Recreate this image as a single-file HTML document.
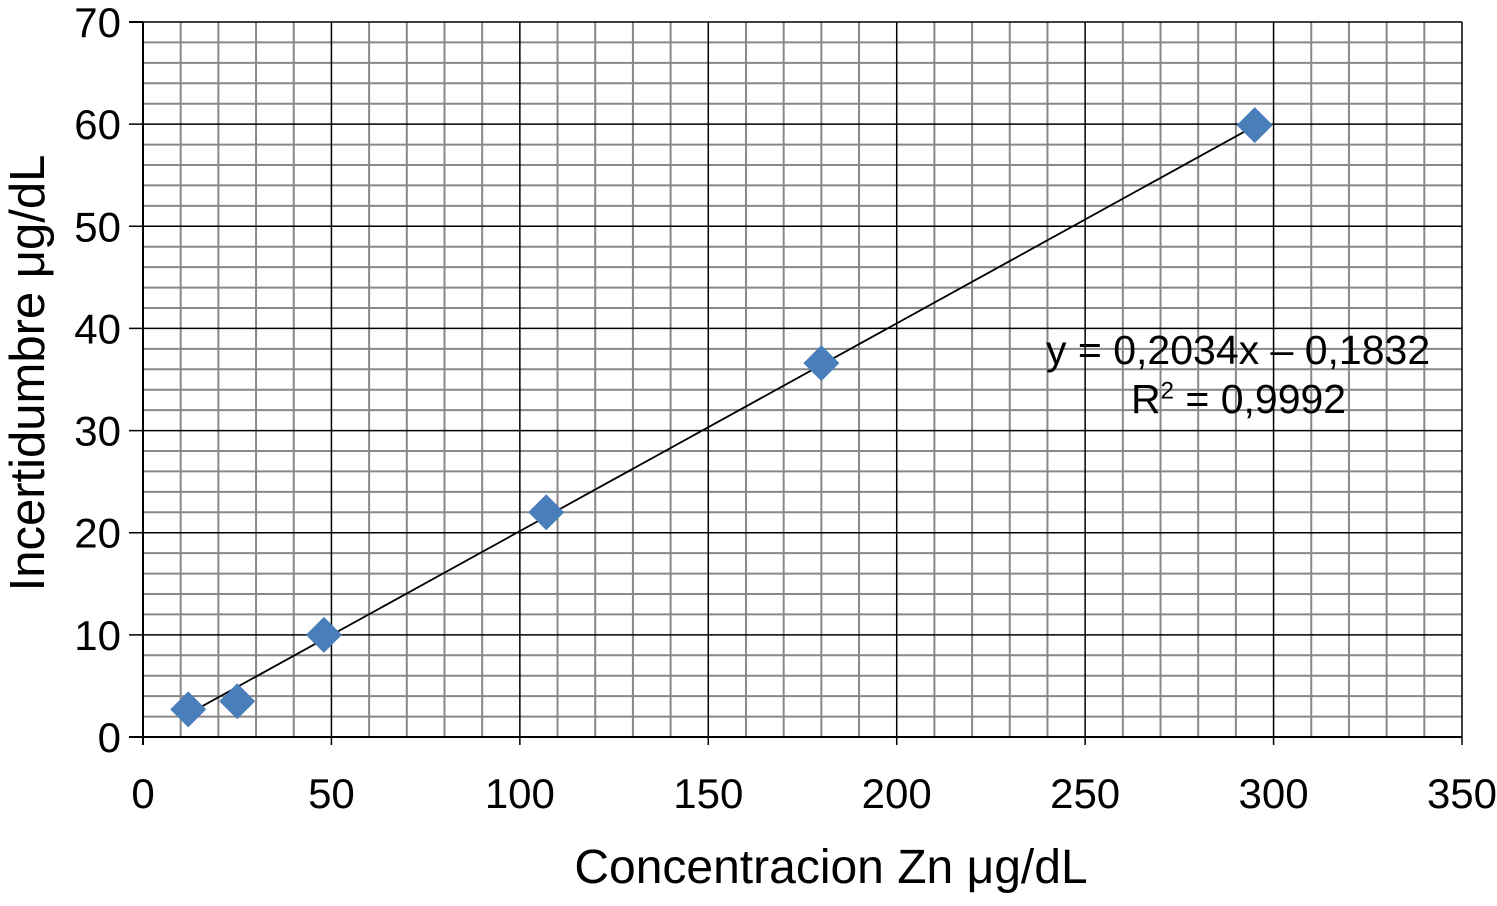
<!DOCTYPE html>
<html><head><meta charset="utf-8"><style>
html,body{margin:0;background:#fff;overflow:hidden;width:1497px;height:906px;}
svg{display:block;}
svg text{font-family:"Liberation Sans",Arial,sans-serif;fill:#000;}
</style></head><body>
<svg id="c" width="1497" height="906" xmlns="http://www.w3.org/2000/svg"></svg>
<script>
const xVals=[12,25,48,107,180,295];
const yVals=[2.7,3.5,10,22,36.6,59.9];
const xTicks=[0,50,100,150,200,250,300,350];
const yTicks=[0,10,20,30,40,50,60,70];
const slope=0.2034, intercept=-0.1832;
const svg=document.getElementById('c');
const NS='http://www.w3.org/2000/svg';
const X0=143,X1=1462,Y0=737,Y1=22;
const sx=v=>X0+(v/350)*(X1-X0);
const sy=v=>Y0-(v/70)*(Y0-Y1);
function mk(t,a,p){const e=document.createElementNS(NS,t);for(const k in a)e.setAttribute(k,a[k]);(p||svg).appendChild(e);return e;}
const grid=mk('g',{});


for(let v=10;v<=350;v+=10){if(v%50)mk('line',{x1:sx(v),x2:sx(v),y1:Y1,y2:Y0,stroke:'#888','stroke-width':2},grid);}
for(let v=2;v<=70;v+=2){if(v%10)mk('line',{x1:X0,x2:X1,y1:sy(v),y2:sy(v),stroke:'#888','stroke-width':2},grid);}
xTicks.forEach(v=>{if(v>0)mk('line',{x1:sx(v),x2:sx(v),y1:Y1,y2:Y0+8,stroke:'#000','stroke-width':1.5},grid);});
yTicks.forEach(v=>{if(v>0)mk('line',{x1:X0-14,x2:X1,y1:sy(v),y2:sy(v),stroke:'#000','stroke-width':1.5},grid);});
const ax=mk('g',{});


mk('line',{x1:X0,x2:X0,y1:Y1,y2:Y0+8,stroke:'#000','stroke-width':2},ax);
mk('line',{x1:X0-14,x2:X1,y1:Y0,y2:Y0,stroke:'#000','stroke-width':2},ax);
mk('line',{x1:X0-14,x2:X0,y1:Y1,y2:Y1,stroke:'#000','stroke-width':2},ax);
xTicks.forEach(v=>{const t=mk('text',{x:sx(v),y:808,'font-size':42,'text-anchor':'middle'},ax);t.textContent=v;

});
yTicks.forEach(v=>{const t=mk('text',{x:121,y:sy(v)+15,'font-size':42,'text-anchor':'end'},ax);t.textContent=v;

});
const tl=mk('line',{x1:sx(xVals[0]),y1:sy(slope*xVals[0]+intercept),x2:sx(xVals[xVals.length-1]),y2:sy(slope*xVals[xVals.length-1]+intercept),stroke:'#000','stroke-width':1.8});


xVals.forEach((xv,i)=>{const cx=sx(xv),cy=sy(yVals[i]),r=18;
const p=mk('polygon',{points:`${cx},${cy-r} ${cx+r},${cy} ${cx},${cy+r} ${cx-r},${cy}`,fill:'#4a7ebb'});

});
</script>
<div style="position:absolute;left:0;top:0;width:1497px;height:906px;pointer-events:none;font-family:'Liberation Sans',Arial,sans-serif;">
<div style="position:absolute;left:1046px;top:328px;font-size:41px;white-space:nowrap;line-height:1.1;">y = 0,2034x – 0,1832</div>
<div style="position:absolute;left:1131px;top:377px;font-size:41px;white-space:nowrap;line-height:1.1;">R<sup style="font-size:24px;">2</sup> = 0,9992</div>
<div style="position:absolute;left:0;width:1662px;text-align:center;top:840px;font-size:48px;white-space:nowrap;">Concentracion Zn μg/dL</div>
<div style="position:absolute;left:28px;top:373px;font-size:49px;white-space:nowrap;transform:translate(-50%,-50%) rotate(-90deg);">Incertidumbre μg/dL</div>
</div>
</body></html>
